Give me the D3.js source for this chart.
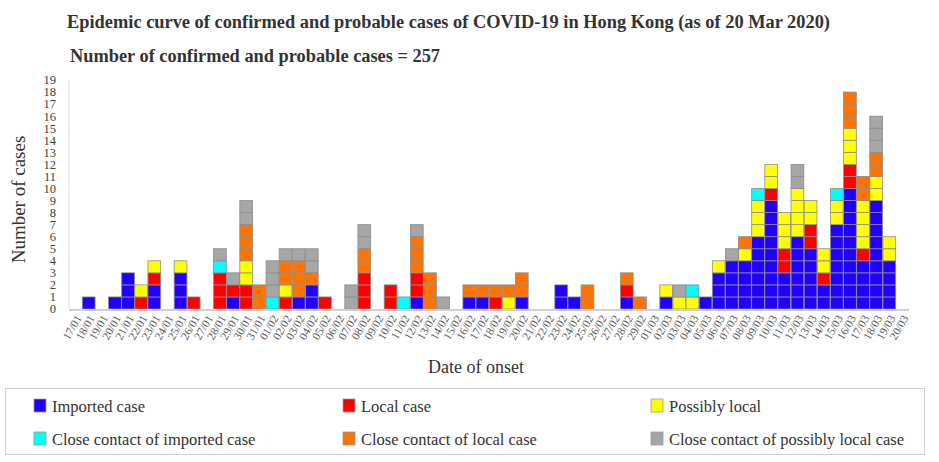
<!DOCTYPE html>
<html><head><meta charset="utf-8">
<script src="https://cdn.jsdelivr.net/npm/d3@7"></script>
<style>body{margin:0;background:#fff}svg{display:block}text{font-family:"Liberation Serif","Times New Roman",serif}</style>
</head><body><svg id="c" width="939" height="462" font-family="Liberation Serif, serif"></svg>
<script>
// ---- data ----
const janDays = d3.range(17, 32).map(d => String(d).padStart(2,"0") + "/01");
const febDays = d3.range(1, 30).map(d => String(d).padStart(2,"0") + "/02");
const marDays = d3.range(1, 21).map(d => String(d).padStart(2,"0") + "/03");
const dates = [...janDays, ...febDays, ...marDays];

const imported = [
  0,1,0,1,3,0,2,0,3,0,0,0,1,0,0,
  0,0,1,2,0,0,0,0,0,0,0,1,0,0,0,1,1,0,0,1,0,0,2,1,0,0,0,1,0,
  0,1,0,0,1,3,4,4,6,9,3,6,5,2,7,10,4,9,4,0];
const local = [
  0,0,0,0,0,1,1,0,0,1,0,3,1,2,0,
  0,1,0,0,1,0,0,3,0,2,0,2,0,0,0,0,0,1,0,0,0,0,0,0,0,0,0,1,0,
  0,0,0,0,0,0,0,0,0,1,2,0,2,1,0,2,1,0,0,0];
const possiblyLocal = [
  0,0,0,0,0,1,1,0,1,0,0,0,0,2,0,
  0,1,0,0,0,0,0,0,0,0,0,0,0,0,0,0,0,0,1,0,0,0,0,0,0,0,0,0,0,
  0,1,1,1,0,1,0,1,3,2,3,4,2,2,2,3,4,2,2,0];
const contactImported = [
  0,0,0,0,0,0,0,0,0,0,0,1,0,0,0,
  1,0,0,0,0,0,0,0,0,0,1,0,0,0,0,0,0,0,0,0,0,0,0,0,0,0,0,0,0,
  0,0,0,1,0,0,0,0,1,0,0,0,0,0,1,0,0,0,0,0];
const contactLocal = [
  0,0,0,0,0,0,0,0,0,0,0,0,0,3,2,
  0,2,3,1,0,0,0,2,0,0,0,3,3,0,0,1,1,1,1,2,0,0,0,0,2,0,0,1,1,
  0,0,0,0,0,0,0,1,0,0,0,0,0,0,0,3,2,2,0,0];
const contactPossibly = [
  0,0,0,0,0,0,0,0,0,0,0,1,1,2,0,
  3,1,1,2,0,0,2,2,0,0,0,1,0,1,0,0,0,0,0,0,0,0,0,0,0,0,0,0,0,
  0,0,1,0,0,0,1,0,0,0,0,2,0,0,0,0,0,3,0,0];

const seriesNames = ["Imported case","Local case","Possibly local",
  "Close contact of imported case","Close contact of local case","Close contact of possibly local case"];
const seriesValues = [imported, local, possiblyLocal, contactImported, contactLocal, contactPossibly];
const seriesColors = ["#2200ff","#ff0000","#ffff00","#00ffff","#ff7300","#a6a6a6"];
const yTicks = d3.range(0, 20);

const titleText = "Epidemic curve of confirmed and probable cases of COVID-19 in Hong Kong (as of 20 Mar 2020)";
const subtitleText = "Number of confirmed and probable cases = 257";

// ---- chart ----
const svg = d3.select("#c");
const x = d3.scaleBand().domain(dates).range([69, 909]).paddingInner(0.03).paddingOuter(0.015);
const y = d3.scaleLinear().domain([0, 19]).range([309, 80]);

const keys = seriesNames.map((_, i) => "s" + i);
const rows = dates.map((d, j) => {
  const r = {date: d};
  keys.forEach((k, i) => r[k] = seriesValues[i][j]);
  return r;
});
const stacked = d3.stack().keys(keys)(rows);

svg.append("text").attr("x", 67).attr("y", 28).attr("font-size", 18).attr("font-weight", "bold")
  .attr("fill", "#333").attr("textLength", 763).attr("lengthAdjust", "spacingAndGlyphs").text(titleText);
svg.append("text").attr("x", 70).attr("y", 62).attr("font-size", 18).attr("font-weight", "bold")
  .attr("fill", "#333").attr("textLength", 370).attr("lengthAdjust", "spacingAndGlyphs").text(subtitleText);

// y axis line
svg.append("line").attr("x1", 69).attr("x2", 69).attr("y1", y(19)).attr("y2", y(0))
  .attr("stroke", "#d9d9d9").attr("stroke-width", 1);

// y tick labels
svg.append("g").selectAll("text").data(yTicks).join("text")
  .attr("x", 56).attr("y", d => y(d)).attr("dy", "0.35em").attr("text-anchor", "end")
  .attr("font-size", 12.5).attr("fill", "#404040").text(d => d);

svg.append("text").attr("transform", `translate(25,${(y(0)+y(19))/2+5}) rotate(-90)`)
  .attr("text-anchor", "middle").attr("font-size", 19).attr("fill", "#333").text("Number of cases");

// cells
const layers = svg.append("g").selectAll("g").data(stacked).join("g")
  .attr("fill", (d, i) => seriesColors[i]);
layers.each(function(layer) {
  const cells = [];
  layer.forEach(seg => {
    for (let k = seg[0]; k < seg[1]; k++) cells.push({date: seg.data.date, k});
  });
  d3.select(this).selectAll("rect").data(cells).join("rect")
    .attr("x", c => x(c.date)).attr("width", x.bandwidth())
    .attr("y", c => y(c.k + 1)).attr("height", c => y(c.k) - y(c.k + 1))
    .attr("stroke", "#8c8c8c").attr("stroke-width", 0.8);
});

// x axis baseline
svg.append("line").attr("x1", 69).attr("x2", 909).attr("y1", y(0) + 1).attr("y2", y(0) + 1)
  .attr("stroke", "#d0d0d0").attr("stroke-width", 2);

// x tick labels
svg.append("g").selectAll("text").data(dates).join("text")
  .attr("transform", d => `translate(${x(d) + x.bandwidth()/2 + 3},${y(0) + 7}) rotate(-60)`)
  .attr("text-anchor", "end").attr("dy", "0.35em").attr("font-size", 11.5).attr("fill", "#595959").text(d => d);

svg.append("text").attr("x", 476).attr("y", 373).attr("text-anchor", "middle")
  .attr("font-size", 18).attr("fill", "#333").text("Date of onset");

// legend
svg.append("rect").attr("x", 5.5).attr("y", 388.5).attr("width", 919).attr("height", 66)
  .attr("fill", "none").attr("stroke", "#d0d0d0");
const colX = [34, 343, 651], rowY = [406, 439];
const leg = svg.append("g").selectAll("g").data(seriesNames).join("g")
  .attr("transform", (d, i) => `translate(${colX[i % 3]},${rowY[Math.floor(i / 3)]})`);
leg.append("rect").attr("x", 0).attr("y", -7).attr("width", 12).attr("height", 13)
  .attr("fill", (d, i) => seriesColors[i]).attr("stroke", "#999").attr("stroke-width", 0.8);
leg.append("text").attr("x", 18).attr("y", 0).attr("dy", "0.35em").attr("font-size", 16.5)
  .attr("fill", "#333").text(d => d);
</script></body></html>
